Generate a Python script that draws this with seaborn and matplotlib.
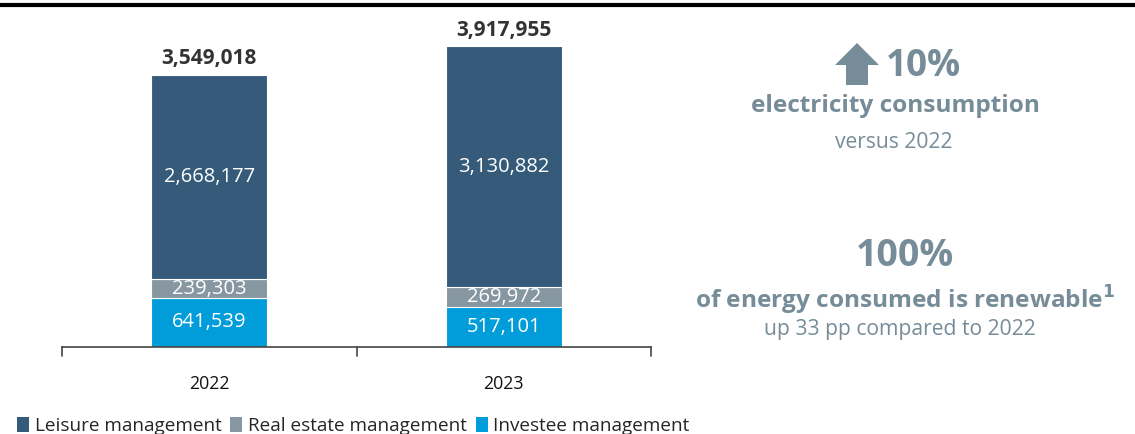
import matplotlib
matplotlib.use("Agg")
import matplotlib.pyplot as plt
from matplotlib.patches import Polygon, Patch
from matplotlib.lines import Line2D
import seaborn as sns
import pandas as pd
import numpy as np

# Electricity consumption by business segment
years = ["2022", "2023"]
leisure = [2668177, 3130882]
real_estate = [239303, 269972]
investee = [641539, 517101]
totals = [3549018, 3917955]
segments = ["Leisure management", "Real estate management", "Investee management"]

C_LEISURE = "#365B7A"
C_REAL = "#8797A2"
C_INVEST = "#009DDA"
C_NOTE = "#768C98"

sns.set_theme(style="white")
plt.rcParams["font.family"] = ["Open Sans", "DejaVu Sans"]

W, H = 1135, 434
fig = plt.figure(figsize=(W / 100, H / 100), dpi=100)

def fx(px):
    return px / W

def fy(py):
    return 1 - py / H

ax_top, ax_bot, ax_l, ax_r = 30, 347, 62, 651
ax = fig.add_axes([fx(ax_l), fy(ax_bot), fx(ax_r) - fx(ax_l), (ax_bot - ax_top) / H])

df = pd.DataFrame({"year": years, "leisure": leisure, "real": real_estate, "invest": investee})
df["b_real"] = df["invest"]
df["b_leis"] = df["invest"] + df["real"]

bw = 0.395
kw = dict(width=bw, edgecolor="white", linewidth=0.8, ax=ax, order=years)
sns.barplot(data=df, x="year", y="invest", color=C_INVEST, saturation=1, **kw)
sns.barplot(data=df, x="year", y="real", bottom=df["b_real"], color=C_REAL, saturation=1, **kw)
sns.barplot(data=df, x="year", y="leisure", bottom=df["b_leis"], color=C_LEISURE, saturation=1, **kw)

px_per_unit = 76.7e-6  # pixels per kWh on the vertical scale
ax.set_ylim(0, (ax_bot - ax_top) / px_per_unit)
ax.set_xlim(-0.5, 1.5)

# segment value labels
for i in range(len(years)):
    inv, rea, lei = investee[i], real_estate[i], leisure[i]
    ax.text(i, inv / 2, f"{inv:,}", ha="center", va="center", color="white", fontsize=14.5)
    ax.text(i, inv + rea / 2, f"{rea:,}", ha="center", va="center", color="white", fontsize=14.5)
    ax.text(i, inv + rea + lei / 2, f"{lei:,}", ha="center", va="center", color="white", fontsize=14.5)
    ax.annotate(f"{totals[i]:,}", (i, inv + rea + lei), xytext=(0, 4), textcoords="offset points",
                ha="center", va="bottom", color="#333333", fontsize=15, fontweight="bold")

# category axis with separators between groups
for s in ["top", "right", "left"]:
    ax.spines[s].set_visible(False)
ax.spines["bottom"].set_color("#444444")
ax.spines["bottom"].set_linewidth(1.2)
ax.set_yticks([])
ax.set_ylabel("")
ax.set_xlabel("")
ax.set_xticks([0, 1])
ax.set_xticklabels(years, fontsize=12.8, color="#111111")
ax.tick_params(axis="x", length=0, pad=20)
for xb in [-0.5, 0.5, 1.5]:
    ax.plot([xb, xb], [0, -0.0285], transform=ax.get_xaxis_transform(), color="#444444",
            lw=1.2, clip_on=False)

# header rule
fig.add_artist(Line2D([0, 1], [fy(5), fy(5)], color="black", lw=3))

# legend
handles = [Patch(facecolor=c, edgecolor="none") for c in (C_LEISURE, C_REAL, C_INVEST)]
fig.legend(handles, segments, loc="center left", bbox_to_anchor=(fx(17), fy(426)), ncol=3,
           frameon=False, fontsize=13.6, handlelength=0.65, handleheight=0.85, handletextpad=0.3,
           columnspacing=0.45, borderaxespad=0, borderpad=0)

# key figures panel
arrow = Polygon([(fx(857), fy(43)), (fx(879), fy(65)), (fx(868), fy(65)), (fx(868), fy(85)),
                 (fx(846), fy(85)), (fx(846), fy(65)), (fx(835), fy(65))],
                closed=True, facecolor=C_NOTE, edgecolor="none", transform=fig.transFigure)
fig.add_artist(arrow)
fig.text(fx(886), fy(66), "10%", ha="left", va="center", color=C_NOTE, fontsize=26.5, fontweight="bold")
fig.text(fx(895), fy(106), "electricity consumption", ha="center", va="center", color=C_NOTE,
         fontsize=17.6, fontweight="bold")
fig.text(fx(894), fy(142), "versus 2022", ha="center", va="center", color=C_NOTE, fontsize=15.2)
fig.text(fx(905), fy(256), "100%", ha="center", va="center", color=C_NOTE, fontsize=27,
         fontweight="bold")
fig.text(fx(905), fy(300), "of energy consumed is renewable$^{\\mathbf{1}}$", ha="center", va="center",
         color=C_NOTE, fontsize=17.6, fontweight="bold")
fig.text(fx(900), fy(329), "up 33 pp compared to 2022", ha="center", va="center", color=C_NOTE,
         fontsize=15.2)

fig.savefig("out.png", dpi=100)
